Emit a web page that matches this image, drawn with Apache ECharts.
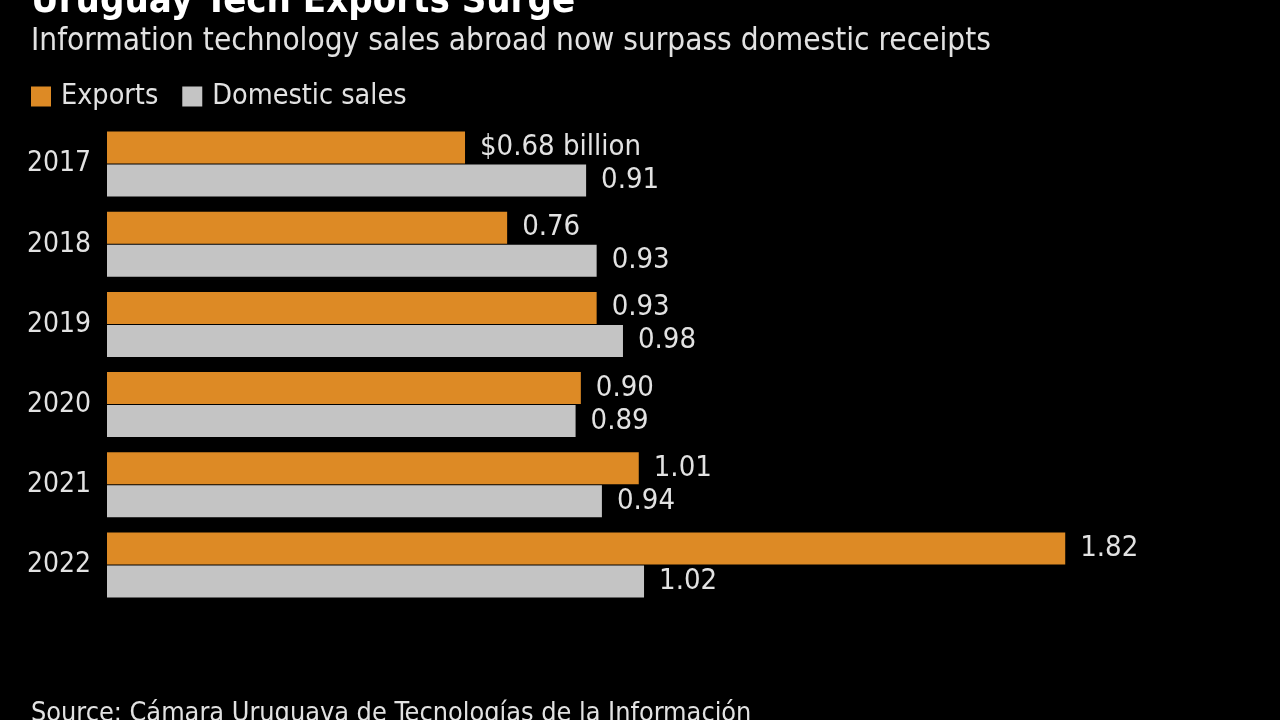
<!DOCTYPE html>
<html>
<head>
<meta charset="utf-8">
<script src="https://cdn.jsdelivr.net/npm/echarts@6/dist/echarts.min.js"></script>
<style>
html,body{margin:0;padding:0;background:#000;}
#chart{width:1280px;height:720px;}
</style>
</head>
<body>
<div id="chart"></div>
<script>
const years = ['2017','2018','2019','2020','2021','2022'];
const exportsVals = [0.68, 0.76, 0.93, 0.90, 1.01, 1.82];
const domesticVals = [0.91, 0.93, 0.98, 0.89, 0.94, 1.02];
const seriesNames = ['Exports', 'Domestic sales'];

const FONT = '"DejaVu Sans Condensed", "DejaVu Sans", sans-serif';
const TXT = '#e2e2e2';

const chart = echarts.init(document.getElementById('chart'));
chart.setOption({
  backgroundColor: '#000',
  animation: false,
  textStyle: { fontFamily: FONT },
  title: [
    { text: 'Uruguay Tech Exports Surge', left: 26, top: -22,
      textStyle: { color: '#fff', fontSize: 38, fontWeight: 'bold', fontFamily: FONT } },
    { text: 'Information technology sales abroad now surpass domestic receipts', left: 26, top: 21,
      textStyle: { color: TXT, fontSize: 31.3, fontWeight: 'normal', fontFamily: FONT } },
    { text: 'Source: Cámara Uruguaya de Tecnologías de la Información', left: 26, top: 696,
      textStyle: { color: TXT, fontSize: 26.8, fontWeight: 'normal', fontFamily: FONT } }
  ],
  legend: {
    left: 26, top: 77,
    itemWidth: 20, itemHeight: 20, itemGap: 24,
    icon: 'rect',
    data: seriesNames,
    textStyle: { color: TXT, fontSize: 28.5, fontFamily: FONT, padding: [0,0,0,5] }
  },
  grid: { left: 107, right: 120, top: 124, bottom: 115, containLabel: false },
  xAxis: {
    type: 'value', min: 0, max: 2,
    show: false
  },
  yAxis: {
    type: 'category', data: years, inverse: true,
    axisLine: { show: false }, axisTick: { show: false },
    axisLabel: { color: TXT, fontSize: 28, margin: 16, fontFamily: FONT }
  },
  series: [
    {
      name: seriesNames[0], type: 'bar', data: exportsVals,
      barWidth: 32, barGap: '3%',
      itemStyle: { color: '#dd8a25' },
      label: { show: true, position: 'right', distance: 15, color: TXT, fontSize: 29, fontFamily: FONT,
        formatter: p => p.dataIndex === 0 ? '$' + p.value.toFixed(2) + ' billion' : p.value.toFixed(2) }
    },
    {
      name: seriesNames[1], type: 'bar', data: domesticVals,
      barWidth: 32,
      itemStyle: { color: '#c4c4c4' },
      label: { show: true, position: 'right', distance: 15, color: TXT, fontSize: 29, fontFamily: FONT,
        formatter: p => p.value.toFixed(2) }
    }
  ]
});
</script>
</body>
</html>
